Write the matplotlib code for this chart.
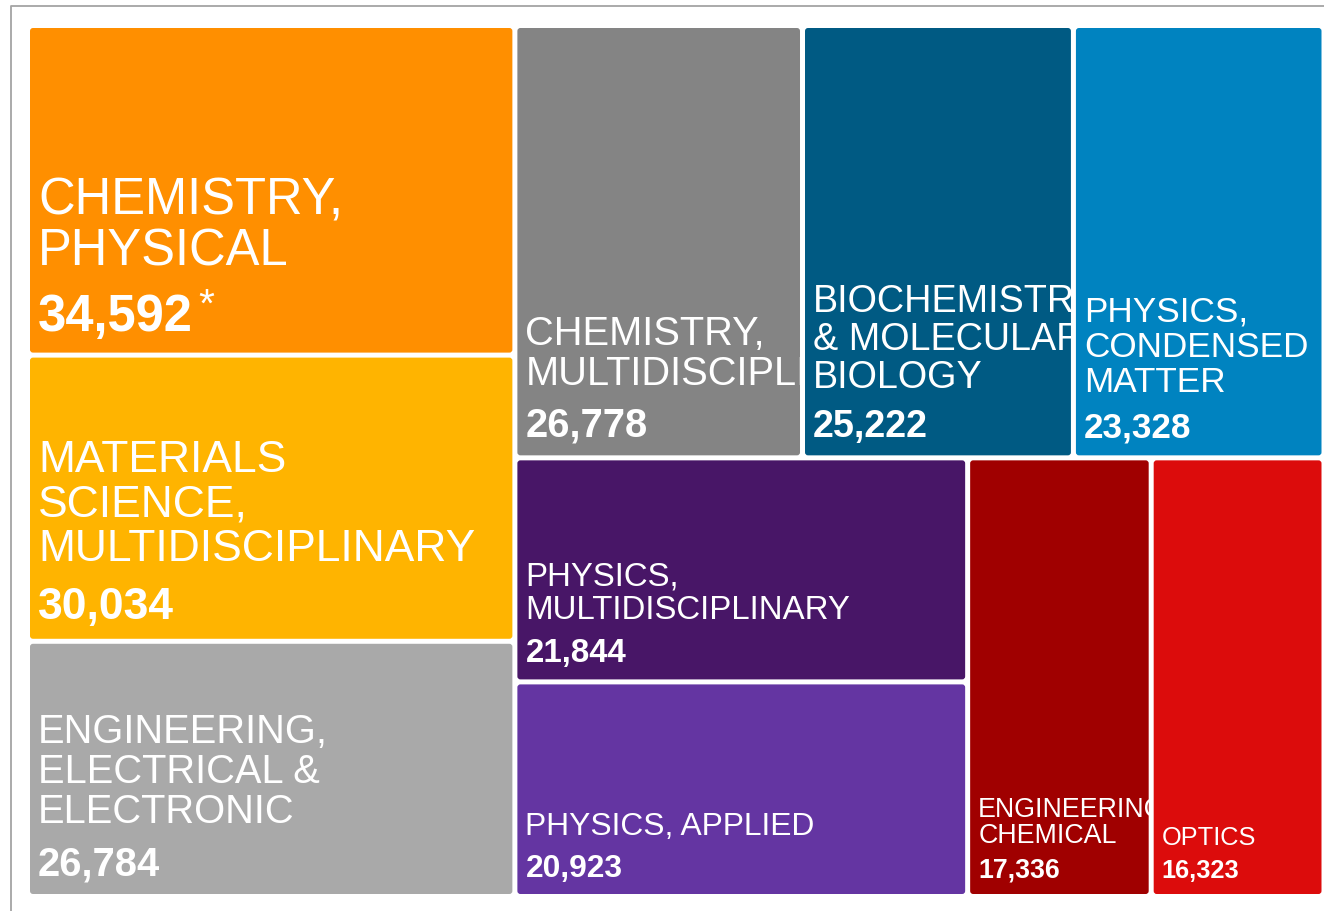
import matplotlib.pyplot as plt
from matplotlib.patches import FancyBboxPatch
from matplotlib.transforms import Bbox

plt.rcParams['font.family'] = ['Liberation Sans', 'DejaVu Sans']

# categories, in the order the treemap places them
categories = ["CHEMISTRY,\nPHYSICAL",
              "MATERIALS\nSCIENCE,\nMULTIDISCIPLINARY",
              "ENGINEERING,\nELECTRICAL &\nELECTRONIC",
              "CHEMISTRY,\nMULTIDISCIPLINARY",
              "BIOCHEMISTRY\n& MOLECULAR\nBIOLOGY",
              "PHYSICS,\nCONDENSED\nMATTER",
              "PHYSICS,\nMULTIDISCIPLINARY",
              "PHYSICS, APPLIED",
              "ENGINEERING,\nCHEMICAL",
              "OPTICS"]
values = [34592, 30034, 26784, 26778, 25222, 23328, 21844, 20923, 17336, 16323]
notes = ["*", "", "", "", "", "", "", "", "", ""]
colors = ["#FF8F00", "#FFB400", "#A9A9A9", "#848484", "#005A83",
          "#0083C0", "#481667", "#6435A2", "#A00000", "#DC0C0C"]

W, H = 1324, 912
gap = 2.5


def squarify(vals, x0, y0, x1, y1, ratio=1.618034):
    # squarified layout, golden ratio rows (d3 style)
    rects = []
    total = float(sum(vals))
    i0 = 0
    n = len(vals)
    while i0 < n:
        dx, dy = x1 - x0, y1 - y0
        i1 = i0 + 1
        s = vals[i0]
        vmn = vmx = s
        alpha = max(dy / dx, dx / dy) / (total * ratio)
        beta = s * s * alpha
        best = max(vmx / beta, beta / vmn)
        while i1 < n:
            v = vals[i1]
            s2 = s + v
            mn, mx = min(vmn, v), max(vmx, v)
            beta = s2 * s2 * alpha
            r = max(mx / beta, beta / mn)
            if r > best:
                break
            s, vmn, vmx, best = s2, mn, mx, r
            i1 += 1
        row = vals[i0:i1]
        if dx < dy:
            # horizontal row along the top
            hh = dy * s / total
            xx = x0
            for v in row:
                ww = dx * v / s
                rects.append((xx, y0, ww, hh))
                xx += ww
            y0 += hh
        else:
            # vertical column on the left
            ww = dx * s / total
            yy = y0
            for v in row:
                hh = dy * v / s
                rects.append((x0, yy, ww, hh))
                yy += hh
            x0 += ww
        total -= s
        i0 = i1
    return rects


fig = plt.figure(figsize=(W / 100, H / 100), dpi=100)
ax = fig.add_axes([0, 0, 1, 1])
ax.set_xlim(0, W)
ax.set_ylim(H, 0)
ax.axis('off')

# outer frame (top and left visible)
ax.plot([11, 11, W + 5], [H + 5, 7, 7], color='#a4a4a4', lw=1.3, clip_on=False)

rects = squarify(values, 27.5, 26.5, 1324, 897.5)

vmin, vmax = min(values), max(values)
for (x, y, w, h), label, v, note, c in zip(rects, categories, values, notes, colors):
    em = (25 + 25 * (v - vmin) / (vmax - vmin)) * 1.015
    fs = em * 0.72
    tile = FancyBboxPatch((x + gap, y + gap), w - 2 * gap, h - 2 * gap,
                          boxstyle="round,pad=0,rounding_size=3",
                          fc=c, ec='none')
    ax.add_patch(tile)
    # clip box in display pixels for the texts of this tile
    (ax0, ay0), (ax1, ay1) = ax.transData.transform(
        [(x + gap, y + gap), (x + w - gap, y + h - gap)])
    clip = Bbox.from_extents(min(ax0, ax1), min(ay0, ay1),
                             max(ax0, ax1), max(ay0, ay1))
    tx = x + gap + 8
    nb = y + h - gap - (0.2 * em + 12)
    num = ax.text(tx, nb, f"{v:,}", fontsize=fs, fontweight='bold',
                  color='white', va='baseline', ha='left', clip_on=True)
    num.set_clip_box(clip)
    lines = label.split("\n")
    for k, line in enumerate(reversed(lines)):
        t = ax.text(tx, nb - 1.3 * em - k * em, line, fontsize=fs,
                    color='white', va='baseline', ha='left', clip_on=True)
        t.set_clip_box(clip)
    if note:
        ax.annotate(note, xy=(1, nb - 0.3 * em), xycoords=(num, 'data'),
                    xytext=(5, 0), textcoords='offset pixels',
                    fontsize=fs * 0.8, color='white', va='baseline')

fig.savefig("out.png", dpi=100)
